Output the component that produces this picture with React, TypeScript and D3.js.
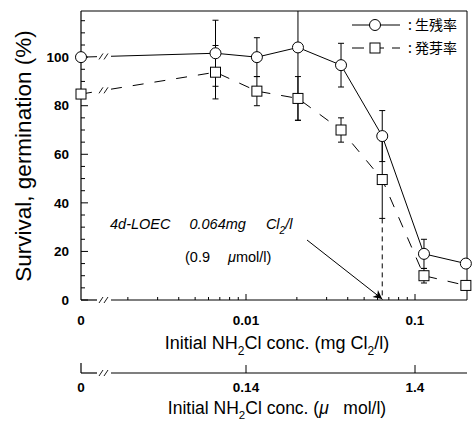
import React from 'react';
import * as d3 from 'd3';

// concentrations (mg Cl2/l), 0 = control
const concMg = [0, 0.0066, 0.0116, 0.0203, 0.0365, 0.064, 0.113, 0.2];
const survival = [100, 101.6, 100, 104, 96.7, 67.5, 19, 15];
const survivalErr = [0, 13.6, 8, 30, 9, 10.5, 6, 0];
const germination = [84.8, 93.8, 86, 83, 70, 49.6, 10, 6];
const germinationErr = [0, 11, 6, 9, 5, 16, 3, 0];

const yTicks = [0, 20, 40, 60, 80, 100];
const mgTicks = [0.01, 0.1];
const mgLabels = ['0.01', '0.1'];
const umolTicks = [0.14, 1.4];
const umolLabels = ['0.14', '1.4'];
const loec = 0.064;

const W = 473;
const H = 422;
const left = 81;
const right = 467;
const top = 11;
const bottom = 300;
const axis2Y = 373;
const breakX = [97, 111];

const font = 'Liberation Sans, Arial, sans-serif';

const App = () => {
    const xLog = d3.scaleLog().domain([0.01, 0.1]).range([246, 415]);
    const x = (c: number) => (c === 0 ? left : xLog(c));
    const xUmol = d3.scaleLog().domain([0.14, 1.4]).range([246, 415]);
    const y = d3.scaleLinear().domain([0, 119]).range([bottom, top]);

    // minor log ticks between the break and the right edge
    const minorTicks: number[] = [];
    [0.001, 0.01, 0.1].forEach(d => {
        for (let k = 2; k <= 9; k++) {
            const v = d * k;
            if (xLog(v) > breakX[1] + 5 && xLog(v) < right - 2) minorTicks.push(v);
        }
    });

    const yMinor = d3.range(0, 119, 5).filter(v => v % 20 !== 0);

    // series line, first segment broken
    const seriesPath = (vals: number[]) => {
        const pts = concMg.map((c, i) => [x(c), y(vals[i])] as [number, number]);
        const [p0, p1] = pts;
        const interp = (px: number) => p0[1] + (p1[1] - p0[1]) * (px - p0[0]) / (p1[0] - p0[0]);
        const first = `M${p0[0]},${p0[1]}L${breakX[0]},${interp(breakX[0])}`;
        const rest = d3.line()([[breakX[1], interp(breakX[1])], ...pts.slice(1)]);
        return { first, rest, mid: interp((breakX[0] + breakX[1]) / 2) };
    };
    const sPath = seriesPath(survival);
    const gPath = seriesPath(germination);

    const breakMark = (cx: number, cy: number, key: string) => (
        <g key={key} stroke="#000" strokeWidth={0.9}>
            <line x1={cx - 5} y1={cy + 3} x2={cx - 1} y2={cy - 3} />
            <line x1={cx} y1={cy + 3} x2={cx + 4} y2={cy - 3} />
        </g>
    );

    const errBar = (c: number, v: number, e: number, key: string) => {
        if (!e) return null;
        const yt = Math.max(y(v + e), top);
        const yb = y(v - e);
        const xc = x(c);
        return (
            <g key={key} stroke="#000" strokeWidth={1}>
                <line x1={xc} x2={xc} y1={yt} y2={yb} />
                {y(v + e) >= top && <line x1={xc - 3} x2={xc + 3} y1={yt} y2={yt} />}
                <line x1={xc - 3} x2={xc + 3} y1={yb} y2={yb} />
            </g>
        );
    };

    const midBreak = (breakX[0] + breakX[1]) / 2;

    return (
        <svg width={W} height={H} style={{ position: 'absolute', left: 0, top: 0, background: '#fff' }} fontFamily={font}>
            <rect width={W} height={H} fill="#fff" />
            <defs>
                <marker id="arr" viewBox="0 0 10 10" refX="10" refY="5" markerWidth="14" markerHeight="9" orient="auto" markerUnits="userSpaceOnUse">
                    <path d="M0,0 L10,5 L0,10 L3,5 Z" fill="#000" />
                </marker>
            </defs>

            {/* frame */}
            <line x1={left} x2={left} y1={top} y2={bottom} stroke="#000" strokeWidth={1.2} />
            <line x1={left} x2={right} y1={top} y2={top} stroke="#000" strokeWidth={1.2} />
            <line x1={right} x2={right} y1={top} y2={bottom} stroke="#000" strokeWidth={1} />
            <line x1={left} x2={breakX[0]} y1={bottom} y2={bottom} stroke="#000" strokeWidth={1.2} />
            <line x1={breakX[1]} x2={right} y1={bottom} y2={bottom} stroke="#000" strokeWidth={1.2} />
            {breakMark(midBreak, bottom, 'bx')}

            {/* y ticks */}
            {yTicks.map(v => (
                <g key={'yt' + v}>
                    <line x1={left} x2={left + 7} y1={y(v)} y2={y(v)} stroke="#000" />
                    <text x={69} y={y(v)} dy="0.35em" textAnchor="end" fontSize={13.5} fontWeight="bold">{v}</text>
                </g>
            ))}
            {yMinor.map(v => (
                <line key={'ym' + v} x1={left} x2={left + 4} y1={y(v)} y2={y(v)} stroke="#000" />
            ))}

            {/* x ticks (mg) */}
            {minorTicks.map((v, i) => (
                <line key={'xm' + i} x1={xLog(v)} x2={xLog(v)} y1={bottom} y2={bottom - 3} stroke="#000" />
            ))}
            {mgTicks.map((v, i) => (
                <g key={'xt' + i}>
                    <line x1={xLog(v)} x2={xLog(v)} y1={bottom} y2={bottom - 6} stroke="#000" />
                    <text x={xLog(v)} y={325} textAnchor="middle" fontSize={13.5} fontWeight="bold">{mgLabels[i]}</text>
                </g>
            ))}
            <text x={left} y={325} textAnchor="middle" fontSize={13.5} fontWeight="bold">0</text>
            <text x={277} y={349} textAnchor="middle" fontSize={18}>
                Initial NH<tspan dy="6" fontSize={12}>2</tspan><tspan dy="-6">Cl conc. (mg Cl</tspan><tspan dy="6" fontSize={12}>2</tspan><tspan dy="-6">/l)</tspan>
            </text>

            {/* second axis (umol/l) */}
            <line x1={left} x2={left} y1={axis2Y - 10} y2={axis2Y} stroke="#000" strokeWidth={1.2} />
            <line x1={left} x2={breakX[0]} y1={axis2Y} y2={axis2Y} stroke="#000" strokeWidth={1.2} />
            <line x1={breakX[1]} x2={right} y1={axis2Y} y2={axis2Y} stroke="#000" strokeWidth={1.2} />
            {breakMark(midBreak, axis2Y, 'bx2')}
            {umolTicks.map((v, i) => (
                <g key={'ut' + i}>
                    <line x1={xUmol(v)} x2={xUmol(v)} y1={axis2Y} y2={axis2Y - 8} stroke="#000" />
                    <text x={xUmol(v)} y={392} textAnchor="middle" fontSize={13.5} fontWeight="bold">{umolLabels[i]}</text>
                </g>
            ))}
            <text x={left} y={392} textAnchor="middle" fontSize={13.5} fontWeight="bold">0</text>
            <text x={277} y={414} textAnchor="middle" fontSize={17.5}>
                Initial NH<tspan dy="5" fontSize={11.5}>2</tspan><tspan dy="-5">Cl conc. (</tspan><tspan fontStyle="italic">μ</tspan><tspan>{'\u00a0\u00a0\u00a0mol/l)'}</tspan>
            </text>

            {/* y title */}
            <text transform={`translate(31,156) rotate(-90)`} textAnchor="middle" fontSize={22.5}>Survival, germination (%)</text>

            {/* LOEC */}
            <line x1={x(loec)} x2={x(loec)} y1={y(germination[5] - germinationErr[5])} y2={bottom} stroke="#000" strokeDasharray="5,4" />
            <line x1={307} y1={240} x2={x(loec)} y2={bottom - 1} stroke="#000" strokeWidth={1} markerEnd="url(#arr)" />
            <text x={110} y={229} fontSize={14.5} fontStyle="italic">
                4d-LOEC<tspan dx="19">0.064mg</tspan><tspan dx="20">Cl</tspan><tspan dy="5" fontSize={10}>2</tspan><tspan dy="-5">/l</tspan>
            </text>
            <text x={185} y={262} fontSize={14.5}>
                (0.9<tspan dx="18" fontStyle="italic">μ</tspan>mol/l)
            </text>

            {/* error bars */}
            {concMg.map((c, i) => errBar(c, survival[i], survivalErr[i], 'se' + i))}
            {concMg.map((c, i) => errBar(c, germination[i], germinationErr[i], 'ge' + i))}

            {/* series lines */}
            <path d={sPath.first} fill="none" stroke="#000" strokeWidth={1} />
            <path d={sPath.rest || ''} fill="none" stroke="#000" strokeWidth={1} />
            {breakMark(midBreak, sPath.mid, 'bs')}
            <path d={gPath.first} fill="none" stroke="#000" strokeWidth={1} strokeDasharray="11,11" />
            <path d={gPath.rest || ''} fill="none" stroke="#000" strokeWidth={1} strokeDasharray="11,11" />
            {breakMark(midBreak, gPath.mid, 'bg')}

            {/* markers */}
            {concMg.map((c, i) => (
                <circle key={'c' + i} cx={x(c)} cy={y(survival[i])} r={5.5} fill="#fff" stroke="#000" strokeWidth={1} />
            ))}
            {concMg.map((c, i) => (
                <rect key={'s' + i} x={x(c) - 5} y={y(germination[i]) - 5} width={10} height={10} fill="#fff" stroke="#000" strokeWidth={1} />
            ))}

            {/* legend */}
            <line x1={352} x2={400} y1={25} y2={25} stroke="#000" />
            <circle cx={375} cy={25} r={5.5} fill="#fff" stroke="#000" />
            <text x={408} y={25} dy="0.35em" fontSize={14} fontFamily="Noto Sans CJK JP">: 生残率</text>
            <line x1={352} x2={400} y1={48} y2={48} stroke="#000" strokeDasharray="12,8,0,0" />
            <rect x={370} y={43} width={10} height={10} fill="#fff" stroke="#000" />
            <text x={408} y={48} dy="0.35em" fontSize={14} fontFamily="Noto Sans CJK JP">: 発芽率</text>
        </svg>
    );
};

export default App;
